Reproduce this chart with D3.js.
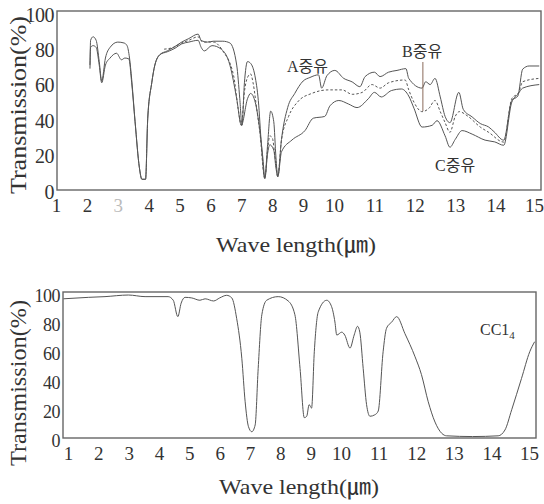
<!DOCTYPE html>
<html>
<head>
<meta charset="utf-8">
<script src="https://cdn.jsdelivr.net/npm/d3@7"></script>
<style>
  body { margin: 0; background: #fff; }
  svg text { font-family: "Times New Roman", "Liberation Serif", "DejaVu Serif", serif, "Noto Sans CJK KR"; fill: #333; }
</style>
</head>
<body>
<svg id="chart" width="544" height="504"></svg>
<script>
// DATA
const wlTicks = [1, 2, 3, 4, 5, 6, 7, 8, 9, 10, 11, 12, 13, 14, 15];
const transTicks = [0, 20, 40, 60, 80, 100];
const oilNames = ["A중유", "B중유", "C중유"];
const solventName = "CC1";

// [wave length (um), transmission (%)]
const oilA = [
  [2.1, 70], [2.12, 84], [2.2, 86], [2.3, 84], [2.4, 72], [2.48, 61], [2.6, 74],
  [2.75, 80], [3.0, 83], [3.2, 82.5], [3.3, 81], [3.38, 74], [3.45, 62], [3.56, 38],
  [3.7, 12], [3.78, 5.5], [3.9, 5.5], [3.97, 40], [4.1, 60], [4.2, 70], [4.37, 76],
  [4.6, 78], [4.85, 80.5], [5.07, 83], [5.3, 85], [5.6, 87.5], [5.7, 84], [5.9, 83],
  [6.1, 83.5], [6.4, 83.5], [6.63, 82.5], [6.85, 70], [6.95, 51], [7.02, 36],
  [7.1, 60], [7.2, 72], [7.3, 71], [7.44, 64], [7.55, 50], [7.65, 25], [7.76, 6],
  [7.85, 25], [7.95, 44], [8.05, 38], [8.12, 18], [8.18, 7], [8.3, 28], [8.5, 46],
  [8.73, 54], [9.0, 61], [9.22, 63], [9.5, 64.5], [9.6, 57], [9.77, 64], [10.02, 67],
  [10.24, 62.5], [10.45, 60.5], [10.64, 57.8], [10.77, 63.5], [11.0, 66], [11.14, 63.5],
  [11.35, 66], [11.56, 67], [11.78, 68], [11.85, 62.5], [12.18, 57], [12.27, 60.6],
  [12.38, 59], [12.5, 62.5], [12.63, 52], [12.75, 41], [12.87, 37.5], [13.09, 54.6],
  [13.2, 45], [13.42, 40.7], [13.62, 37], [13.83, 35], [13.96, 32.4], [14.2, 27.6],
  [14.4, 50], [14.55, 52.5], [14.67, 67.7], [14.83, 69.5], [15.08, 69.5],
];
const oilB = [
  [4.5, 79], [4.8, 80], [5.07, 82.5], [5.3, 84], [5.6, 86], [5.75, 83], [6.0, 83],
  [6.1, 83], [6.4, 78], [6.75, 64], [6.9, 45], [7.0, 36], [7.1, 55], [7.2, 63],
  [7.3, 65], [7.38, 60], [7.5, 45], [7.6, 32], [7.76, 6], [7.85, 22], [7.92, 30],
  [8.0, 29], [8.1, 17], [8.18, 7], [8.3, 27.7], [8.53, 41], [8.85, 49.7], [9.28, 54],
  [9.82, 56], [10.2, 56], [10.45, 53.5], [10.7, 54.6], [10.94, 59], [11.14, 57],
  [11.35, 60], [11.76, 61.6], [11.85, 56], [11.98, 49], [12.18, 43.7], [12.35, 45.6],
  [12.5, 50], [12.63, 43.7], [12.75, 37.5], [12.87, 32], [13.0, 41], [13.1, 43.7],
  [13.32, 41], [13.62, 35], [13.83, 32], [14.2, 26.5], [14.4, 51], [14.57, 54.6],
  [14.67, 60.6], [15.08, 62.5],
];
const oilC = [
  [2.1, 68], [2.12, 80], [2.2, 81], [2.3, 80], [2.4, 70], [2.48, 60], [2.6, 70],
  [2.75, 74], [2.96, 76.7], [3.12, 73], [3.23, 74], [3.36, 73.5], [3.45, 60],
  [3.56, 38], [3.7, 12], [3.78, 5.5], [3.9, 5.5], [3.97, 40], [4.1, 60], [4.2, 70],
  [4.37, 76], [4.6, 77.5], [4.85, 79.5], [5.07, 82], [5.3, 83], [5.6, 84], [5.7, 80],
  [5.8, 78], [6.05, 81], [6.35, 79], [6.63, 70], [6.85, 51], [7.0, 36], [7.2, 51],
  [7.3, 54], [7.45, 49], [7.7, 17], [7.76, 6], [7.85, 20], [7.92, 25], [8.05, 22],
  [8.12, 12], [8.18, 7], [8.3, 21], [8.64, 27.7], [9.06, 33], [9.33, 40], [9.7, 41],
  [9.87, 47], [10.12, 50], [10.36, 48], [10.57, 46], [10.85, 51], [11.0, 54.6],
  [11.17, 52], [11.42, 55.6], [11.67, 56.5], [11.85, 52.5], [11.98, 45.6], [12.18, 35],
  [12.43, 36], [12.55, 38.6], [12.75, 30], [12.87, 23.6], [13.0, 28], [13.17, 33],
  [13.42, 31], [13.74, 27.6], [13.98, 26.6], [14.2, 24.7], [14.4, 49], [14.55, 53.5],
  [14.67, 57], [15.08, 59],
];
const ccl4 = [
  [0.85, 96], [1.67, 97], [2.22, 97.5], [2.99, 98.6], [3.54, 97.5], [4.3, 97.5],
  [4.47, 95], [4.62, 83.7], [4.73, 93], [4.86, 97], [5.08, 96.6], [5.35, 95],
  [5.52, 96], [5.8, 94.5], [6.0, 96.6], [6.23, 98.4], [6.4, 96.6], [6.56, 82.5],
  [6.73, 55], [6.84, 25], [6.95, 7.8], [7.06, 4.3], [7.17, 9], [7.27, 48], [7.39, 85],
  [7.55, 95], [7.93, 97.5], [8.26, 94.5], [8.48, 85], [8.65, 48], [8.79, 14],
  [8.87, 15], [8.95, 23], [9.03, 20.6], [9.12, 59.5], [9.25, 87], [9.53, 95],
  [9.69, 90.6], [9.8, 80], [9.86, 71], [10.02, 73], [10.1, 71], [10.24, 62],
  [10.35, 71], [10.44, 77], [10.5, 73], [10.59, 48], [10.68, 23], [10.77, 15],
  [10.9, 16], [10.99, 18.6], [11.12, 59.5], [11.21, 75.6], [11.35, 80], [11.48, 83.7],
  [11.7, 72], [11.97, 56], [12.14, 43.7], [12.32, 25], [12.5, 11], [12.68, 3.2],
  [12.81, 1.5], [13.5, 1], [14.18, 1.5], [14.36, 5.5], [14.54, 19.5], [14.8, 41],
  [15.02, 59.5], [15.15, 66.4],
];

const svg = d3.select("#chart");
const ink = "#555";

// the paper chart changes its scale at 10 um, so the scales are piecewise
function panel(box, xRange, yRange, fontY) {
  const x = d3.scaleLinear().domain([1, 10, 15]).range(xRange);
  const y = d3.scaleLinear().domain([0, 100]).range(yRange);

  const g = svg.append("g");

  g.append("rect")
    .attr("x", box[0])
    .attr("y", box[1])
    .attr("width", box[2] - box[0])
    .attr("height", box[3] - box[1])
    .attr("fill", "none")
    .attr("stroke", "#666")
    .attr("stroke-width", 1.4);

  const yAxis = g
    .append("g")
    .attr("transform", `translate(${box[0] - 3},0)`)
    .call(d3.axisLeft(y).tickValues(transTicks).tickSize(0).tickPadding(0));
  yAxis.select(".domain").remove();
  yAxis.selectAll("text")
    .attr("font-size", fontY)
    .attr("dy", "0.45em")
    .attr("letter-spacing", -0.5);

  const xAxis = g
    .append("g")
    .attr("transform", `translate(0,${box[3]})`)
    .call(d3.axisBottom(x).tickValues(wlTicks).tickSize(0).tickPadding(9));
  xAxis.select(".domain").remove();
  xAxis.selectAll("text").attr("font-size", 19);

  return { g, x, y, xAxis };
}

const line = (x, y) =>
  d3.line()
    .x((d) => x(d[0]))
    .y((d) => y(d[1]))
    .curve(d3.curveMonotoneX);

// TOP PANEL - heavy oils
const oilPanel = panel([57, 11, 541, 190], [56, 334, 536], [189, 12], 20);
oilPanel.xAxis.selectAll("text").filter((d) => d == 3).style("fill", "#bbb");
oilPanel.xAxis.selectAll("text").filter((d) => d == 15).attr("dx", -2);

[oilA, oilB, oilC].forEach((s, i) => {
  oilPanel.g.append("path")
    .datum(s)
    .attr("d", line(oilPanel.x, oilPanel.y))
    .attr("fill", "none")
    .attr("stroke", ink)
    .attr("stroke-width", 1)
    .attr("stroke-dasharray", i == 1 ? "2.5,2" : null);
});

oilPanel.g.append("line")
  .attr("x1", oilPanel.x(12.2)).attr("x2", oilPanel.x(12.2))
  .attr("y1", 62).attr("y2", oilPanel.y(44))
  .attr("stroke", "#8a6a5a")
  .attr("stroke-width", 1);

const oilPos = [[287, 72], [402, 57], [435, 171]];
oilPanel.g.selectAll(".oil")
  .data(oilNames)
  .join("text")
  .attr("class", "oil")
  .attr("x", (d, i) => oilPos[i][0])
  .attr("y", (d, i) => oilPos[i][1])
  .attr("font-size", 16)
  .text((d) => d);

// BOTTOM PANEL - solvent
const solventPanel = panel([63, 292, 536, 438], [68, 341, 529], [438, 293], 18);

solventPanel.g.append("path")
  .datum(ccl4)
  .attr("d", line(solventPanel.x, solventPanel.y))
  .attr("fill", "none")
  .attr("stroke", ink)
  .attr("stroke-width", 1);

const cc = solventPanel.g.append("text").attr("x", 480).attr("y", 335).attr("font-size", 16);
cc.append("tspan").text(solventName);
cc.append("tspan").attr("font-size", 11).attr("dy", 4).text("4");

// AXIS TITLES
[105, 383].forEach((cy, i) => {
  svg.append("text")
    .attr("transform", `translate(26,${cy}) rotate(-90)`)
    .attr("text-anchor", "middle")
    .attr("font-size", 24)
    .attr("textLength", i == 0 ? 178 : 166)
    .attr("lengthAdjust", "spacingAndGlyphs")
    .text("Transmission(%)");
});

[[296, 252], [299, 494]].forEach((p) => {
  svg.append("text")
    .attr("x", p[0])
    .attr("y", p[1])
    .attr("text-anchor", "middle")
    .attr("font-size", 22)
    .attr("textLength", 160)
    .attr("lengthAdjust", "spacingAndGlyphs")
    .text("Wave length(㎛)");
});
</script>
</body>
</html>
